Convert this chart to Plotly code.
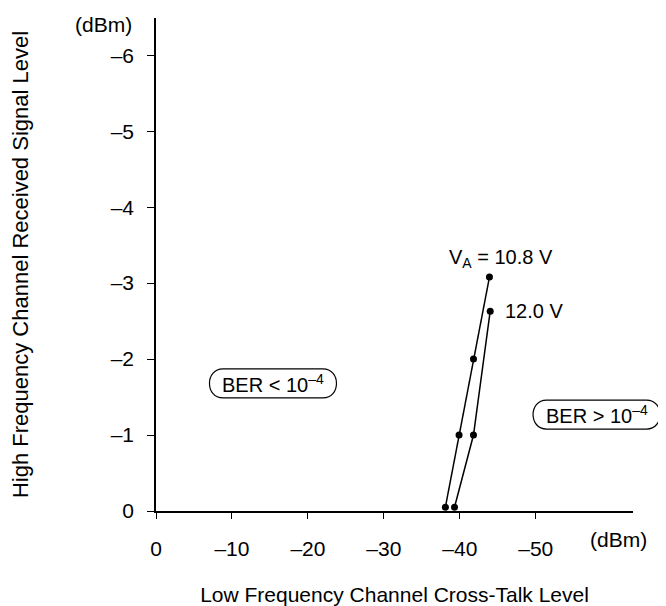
import plotly.graph_objects as go

# cross-talk level (x) vs received signal level (y), both in dBm
xtalk_108 = [-38.1, -39.9, -41.8, -43.9]
level_108 = [-0.05, -1.0, -2.0, -3.08]
xtalk_120 = [-39.3, -41.8, -44.0]
level_120 = [-0.05, -1.0, -2.63]

x_tickvals = [0, -10, -20, -30, -40, -50]
x_ticktext = ['0', '–10', '–20', '–30', '–40', '–50']
y_tickvals = [0, -1, -2, -3, -4, -5, -6]
y_ticktext = ['0', '–1', '–2', '–3', '–4', '–5', '–6']

X_END = -62.8
Y_END = -6.49

FONT = 'Liberation Sans, Arial, sans-serif'

fig = go.Figure()
for xs, ys in [(xtalk_108, level_108), (xtalk_120, level_120)]:
    fig.add_trace(go.Scatter(x=xs, y=ys, mode='lines+markers',
                             line=dict(color='black', width=1.5),
                             marker=dict(color='black', size=7),
                             showlegend=False, cliponaxis=False))

ax_common = dict(showgrid=False, zeroline=False, automargin=False)
# the page body adds an 8px offset, so the figure is 8px smaller than the window
fig.update_layout(
    width=658, height=598,
    margin=dict(l=148, r=33, t=10, b=95),
    plot_bgcolor='white', paper_bgcolor='white',
    font=dict(family=FONT, size=21, color='black'),
    xaxis=dict(range=[0, X_END], tickvals=x_tickvals, ticktext=x_ticktext,
               ticks='outside', ticklen=6, tickcolor='black', tickwidth=1.3,
               showline=True, linecolor='black', linewidth=1.5,
               ticklabelstandoff=12,
               title=dict(text='Low Frequency Channel Cross-Talk Level',
                          standoff=28, font=dict(size=21)),
               **ax_common),
    yaxis=dict(range=[0, Y_END], tickvals=y_tickvals, ticktext=y_ticktext,
               ticks='outside', ticklen=7, tickcolor='black', tickwidth=1.3,
               showline=True, linecolor='black', linewidth=1.5,
               ticklabelstandoff=9,
               title=dict(text='High Frequency Channel Received Signal Level',
                          standoff=76, font=dict(size=22)),
               **ax_common),
    # twin axes so the ticks cross the axis lines
    xaxis2=dict(overlaying='x', range=[0, X_END], tickvals=x_tickvals,
                ticks='inside', ticklen=7, tickcolor='black', tickwidth=1.3,
                showticklabels=False, showline=False, side='bottom', **ax_common),
    yaxis2=dict(overlaying='y', range=[0, Y_END], tickvals=y_tickvals,
                ticks='inside', ticklen=7, tickcolor='black', tickwidth=1.3,
                showticklabels=False, showline=False, side='left', **ax_common),
)

# unit labels at the axis ends
fig.add_annotation(xref='paper', yref='paper', x=-0.1105, y=0.986,
                   xanchor='center', yanchor='middle',
                   text='(dBm)', showarrow=False)
fig.add_annotation(xref='paper', yref='paper', x=0.969, y=-0.0588,
                   xanchor='center', yanchor='middle',
                   text='(dBm)', showarrow=False)

fig.add_annotation(xref='x', yref='y', x=-38.3, y=-3.33, xanchor='left',
                   text='V<sub>A</sub> = 10.8 V', showarrow=False,
                   font=dict(size=20))
fig.add_annotation(xref='x', yref='y', x=-45.7, y=-2.63, xanchor='left',
                   text='12.0 V', showarrow=False, font=dict(size=20))

# region labels inside rounded pills (paper refs so they are not clipped)
regions = [(-15.4, -1.68, 'BER < 10<sup>–4</sup>'),
           (-58.0, -1.27, 'BER > 10<sup>–4</sup>')]
pill = ('M -50,-14.5 L 50,-14.5 C 68,-14.5 68,14.5 50,14.5 '
        'L -50,14.5 C -68,14.5 -68,-14.5 -50,-14.5 Z')
for rx, ry, rt in regions:
    fig.add_annotation(xref='x', yref='y', x=rx, y=ry, text=rt,
                       showarrow=False, font=dict(size=20))
    fig.add_shape(type='path', xref='paper', yref='paper', xsizemode='pixel',
                  ysizemode='pixel', xanchor=rx / X_END, yanchor=ry / Y_END,
                  path=pill, line=dict(color='black', width=1.2))

fig.write_html("out.html")
